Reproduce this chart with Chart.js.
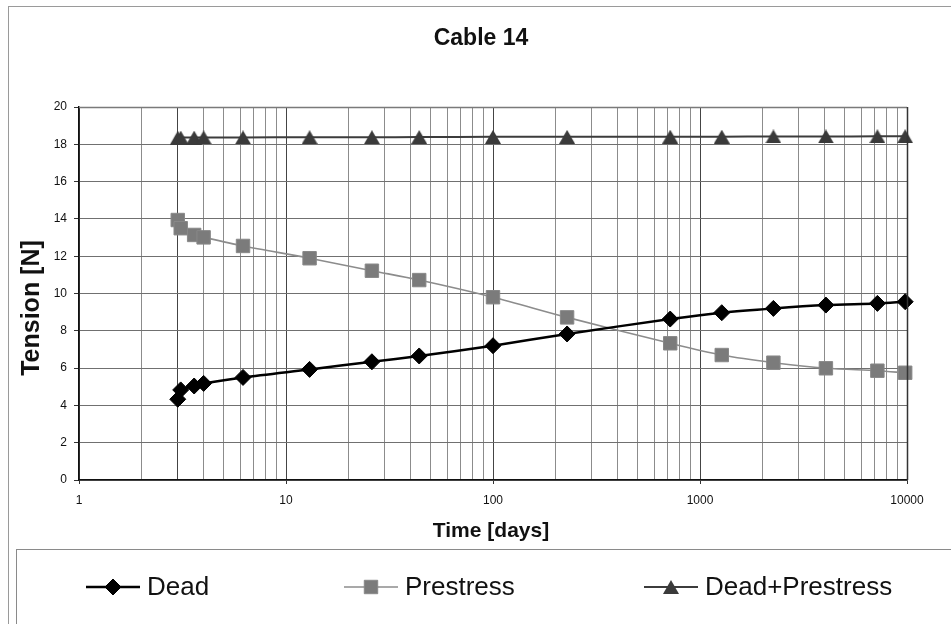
<!DOCTYPE html>
<html>
<head>
<meta charset="utf-8">
<title>Cable 14</title>
<script src="https://cdn.jsdelivr.net/npm/chart.js@4/dist/chart.umd.min.js"></script>
<style>
  html, body { margin: 0; padding: 0; background: #ffffff; }
  canvas { display: block; }
</style>
</head>
<body>
<canvas id="cable" width="951" height="624"></canvas>
<script>
// Measured tension in cable 14 over time
const days = [3, 3.1, 3.6, 4, 6.2, 13, 26, 44, 100, 228, 718, 1274, 2262, 4057, 7193, 9800];
const dead = [4.33, 4.83, 5.04, 5.18, 5.5, 5.93, 6.34, 6.65, 7.2, 7.83, 8.63, 8.97, 9.2, 9.38, 9.47, 9.56];
const prestress = [13.94, 13.5, 13.14, 13.01, 12.55, 11.89, 11.22, 10.72, 9.8, 8.72, 7.33, 6.7, 6.29, 5.99, 5.86, 5.75];
const deadPlusPrestress = [18.35, 18.36, 18.36, 18.37, 18.37, 18.38, 18.38, 18.39, 18.4, 18.4, 18.41, 18.41, 18.42, 18.42, 18.43, 18.43];

const seriesNames = ['Dead', 'Prestress', 'Dead+Prestress'];
const yTicks = [0, 2, 4, 6, 8, 10, 12, 14, 16, 18, 20];
const xDecades = [1, 10, 100, 1000, 10000];

const FONT = "'Liberation Sans', Arial, Helvetica, sans-serif";

// grid positions: every integer multiple within each decade
const xGrid = [];
for (let d = 0; d < xDecades.length - 1; d++) {
  for (let m = 1; m <= 9; m++) xGrid.push(xDecades[d] * m);
}
xGrid.push(xDecades[xDecades.length - 1]);

// triangle marker, centred on its bounding box
function makeTriangle(w, h, color) {
  const c = document.createElement('canvas');
  c.width = w; c.height = h;
  const g = c.getContext('2d');
  g.fillStyle = color;
  g.beginPath();
  g.moveTo(w / 2, 0);
  g.lineTo(w, h);
  g.lineTo(0, h);
  g.closePath();
  g.fill();
  return c;
}
const triangle = makeTriangle(16, 14, '#3a3a3a');

const toPoints = (ys) => days.map((d, i) => ({ x: d, y: ys[i] }));

const decor = {
  id: 'decor',
  beforeDraw(chart) {
    const ctx = chart.ctx;
    ctx.save();
    ctx.fillStyle = '#ffffff';
    ctx.fillRect(0, 0, chart.width, chart.height);
    // outer frame
    ctx.strokeStyle = '#9a9a9a';
    ctx.lineWidth = 1;
    ctx.strokeRect(8.5, 6.5, 1000, 1000);
    // legend frame
    ctx.strokeStyle = '#8a8a8a';
    ctx.strokeRect(16.5, 549.5, 1000, 1000);
    ctx.restore();
  },
  afterDraw(chart) {
    const ctx = chart.ctx;
    const a = chart.chartArea;
    ctx.save();
    // plot frame: top and right edges
    ctx.strokeStyle = '#7a7a7a';
    ctx.lineWidth = 1.5;
    ctx.beginPath();
    ctx.moveTo(a.left, a.top + 0.5);
    ctx.lineTo(a.right, a.top + 0.5);
    ctx.stroke();
    ctx.strokeStyle = '#333333';
    ctx.beginPath();
    ctx.moveTo(a.right + 0.5, a.top);
    ctx.lineTo(a.right + 0.5, a.bottom);
    ctx.stroke();

    // title
    ctx.fillStyle = '#111111';
    ctx.textAlign = 'center';
    ctx.textBaseline = 'middle';
    ctx.font = 'bold 23px ' + FONT;
    ctx.fillText('Cable 14', 481, 39);

    // axis titles
    ctx.font = 'bold 21px ' + FONT;
    ctx.fillText('Time [days]', 491, 531);
    ctx.save();
    ctx.translate(32, 308);
    ctx.rotate(-Math.PI / 2);
    ctx.font = 'bold 25px ' + FONT;
    ctx.fillText('Tension [N]', 0, 0);
    ctx.restore();

    // legend
    const items = [
      { x: 86, ds: 0 },
      { x: 344, ds: 1 },
      { x: 644, ds: 2 }
    ];
    const ly = 587;
    items.forEach((it) => {
      const ds = chart.data.datasets[it.ds];
      ctx.strokeStyle = ds.borderColor;
      ctx.lineWidth = ds.borderWidth;
      ctx.beginPath();
      ctx.moveTo(it.x, ly);
      ctx.lineTo(it.x + 54, ly);
      ctx.stroke();
      ctx.fillStyle = ds.pointBackgroundColor;
      ctx.strokeStyle = ds.pointBorderColor;
      ctx.lineWidth = 1;
      Chart.helpers.drawPoint(ctx, {
        pointStyle: ds.pointStyle,
        radius: ds.pointRadius,
        rotation: 0,
        borderWidth: 1
      }, it.x + 27, ly);
      ctx.fillStyle = '#111111';
      ctx.textAlign = 'left';
      ctx.font = '26px ' + FONT;
      ctx.fillText(ds.label, it.x + 61, ly + 1);
    });
    ctx.restore();
  }
};

new Chart(document.getElementById('cable'), {
  type: 'line',
  data: {
    datasets: [
      {
        label: seriesNames[0],
        data: toPoints(dead),
        borderColor: '#000000',
        borderWidth: 2.5,
        pointStyle: 'rectRot',
        pointRadius: 8,
        pointBackgroundColor: '#000000',
        pointBorderColor: '#000000',
        pointBorderWidth: 1,
        tension: 0.3,
        clip: false
      },
      {
        label: seriesNames[1],
        data: toPoints(prestress),
        borderColor: '#8c8c8c',
        borderWidth: 1.6,
        pointStyle: 'rect',
        pointRadius: 9.5,
        pointBackgroundColor: '#7b7b7b',
        pointBorderColor: '#888888',
        pointBorderWidth: 1,
        tension: 0.3,
        clip: false
      },
      {
        label: seriesNames[2],
        data: toPoints(deadPlusPrestress),
        borderColor: '#3c3c3c',
        borderWidth: 2,
        pointStyle: triangle,
        pointRadius: 8,
        pointBackgroundColor: '#3a3a3a',
        pointBorderColor: '#3a3a3a',
        tension: 0.3,
        clip: false
      }
    ]
  },
  options: {
    responsive: false,
    animation: false,
    devicePixelRatio: 1,
    layout: { padding: { left: 0, top: 107, right: 44, bottom: 0 } },
    plugins: {
      legend: { display: false },
      title: { display: false },
      tooltip: { enabled: false }
    },
    scales: {
      x: {
        type: 'logarithmic',
        min: 1,
        max: 10000,
        afterFit(scale) { scale.height = 144; },
        afterBuildTicks(scale) {
          scale.ticks = xGrid.map((v) => ({ value: v, major: xDecades.includes(v) }));
        },
        ticks: {
          autoSkip: false,
          maxRotation: 0,
          padding: 9,
          color: '#111111',
          font: { family: FONT, size: 12 },
          callback: (v) => (xDecades.includes(v) ? String(v) : '')
        },
        grid: {
          color: (c) => {
            const v = c.tick ? c.tick.value : 0;
            return (xDecades.includes(v) || v === 3) ? '#444444' : '#8c8c8c';
          },
          lineWidth: 1,
          tickLength: 4,
          tickColor: (c) => (c.tick && xDecades.includes(c.tick.value) ? '#333333' : 'rgba(0,0,0,0)')
        },
        border: { color: '#111111', width: 1.5 }
      },
      y: {
        min: 0,
        max: 20,
        afterFit(scale) { scale.width = 79; },
        afterBuildTicks(scale) {
          scale.ticks = yTicks.map((v) => ({ value: v }));
        },
        ticks: {
          padding: 7,
          color: '#111111',
          font: { family: FONT, size: 12 }
        },
        grid: {
          color: '#707070',
          lineWidth: 1,
          tickLength: 5,
          tickColor: '#333333'
        },
        border: { color: '#111111', width: 1.5 }
      }
    }
  },
  plugins: [decor]
});
</script>
</body>
</html>
